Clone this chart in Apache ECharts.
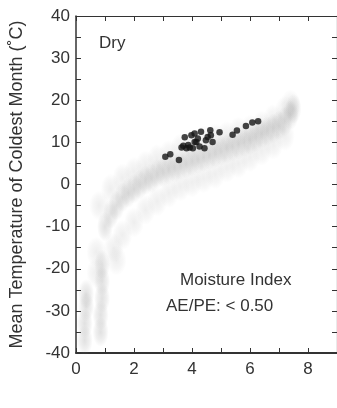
<!DOCTYPE html>
<html>
<head>
<meta charset="utf-8">
<script src="https://cdn.jsdelivr.net/npm/echarts/dist/echarts.min.js"></script>
<style>
  html, body { margin: 0; padding: 0; background: #fff; }
  #chart { width: 337px; height: 408px; }
</style>
</head>
<body>
<div id="chart"></div>
<script>
// moisture index (AE/PE) sites, dry class
var dryX = [3.08, 3.25, 3.55, 3.75, 3.70, 3.87, 3.98, 4.09, 4.20, 4.09, 4.03, 3.81, 4.26, 4.43, 4.48,
            4.63, 4.65, 4.71, 4.95, 4.31, 3.64, 3.92, 4.15, 4.54, 5.40, 5.55, 5.86, 6.08, 6.28];
var dryY = [6.6, 7.2, 5.8, 11.2, 9.2, 9.4, 11.7, 12.1, 10.9, 10.1, 8.6, 8.6, 9.0, 8.6, 10.5,
            12.9, 11.7, 10.1, 12.4, 12.5, 8.8, 8.8, 10.1, 11.3, 11.8, 12.8, 13.9, 14.7, 15.0];

// grey cloud of all other sites: dense core
var coreX = [1.0, 1.2, 1.4, 1.6, 1.8, 2.0, 2.2, 2.4, 2.6, 2.8, 3.0, 3.2, 3.4, 3.6, 3.8, 4.0, 4.2,
             4.4, 4.6, 4.8, 5.0, 5.2, 5.4, 5.6, 5.8, 6.0, 6.2, 6.4, 6.6, 6.8, 7.0, 7.2, 7.4, 7.5,
             0.3, 0.3, 0.35, 0.35, 0.85, 0.85, 0.9, 0.9, 0.9];
var coreY = [-10, -7, -5, -3, -2, -1, 0, 1, 1.5, 2.5, 3, 3.5, 4, 4.5, 5, 5.5, 6,
             6.5, 7, 7.5, 8, 8.5, 9, 9.5, 10, 10.5, 11.2, 12, 12.6, 13.3, 14, 15, 16.5, 18,
             -37, -33, -29, -26, -35, -31, -27, -23, -19];

// grey cloud: sparse fringe above and below the core
var fringeX = [0.8, 1.2, 1.6, 2.0, 2.4, 2.8, 3.2, 3.6, 4.0, 4.4, 4.8, 5.2, 5.6, 6.0, 6.4, 6.8, 7.2, 7.4,
               1.3, 1.6, 2.0, 2.4, 2.8, 3.2, 3.6, 4.0, 4.4, 4.8, 5.2, 5.6, 6.0, 6.4, 6.8, 7.2,
               0.7, 0.7, 1.4];
var fringeY = [-5, -1, 1.5, 3, 4.5, 6, 7, 8.5, 9.5, 10.5, 11, 11.5, 12.5, 13, 14, 15.5, 17.5, 19,
               -15, -12, -9, -6, -4, -2, -0.5, 0.5, 1.5, 2.5, 4, 5, 6.5, 8, 9.5, 11.5,
               -16, -21, -18];

var xTicks = [0, 2, 4, 6, 8];
var yTicks = [-40, -30, -20, -10, 0, 10, 20, 30, 40];

function pairs(xs, ys) {
  return xs.map(function (x, i) { return [x, ys[i]]; });
}

var chart = echarts.init(document.getElementById('chart'));
var font = 'Liberation Sans, Arial, sans-serif';
var ink = '#333';

function frameAxis(pos, w) {
  return {
    type: 'value', position: pos,
    axisLine: { show: true, onZero: false, lineStyle: { color: ink, width: w } },
    axisTick: { inside: true, length: 5, lineStyle: { color: ink } },
    minorTick: { show: true, splitNumber: 2, length: 5, lineStyle: { color: ink } },
    axisLabel: { show: false },
    splitLine: { show: false }
  };
}

var xBottom = frameAxis('bottom', 1.8);
xBottom.min = 0; xBottom.max = 9; xBottom.interval = 2;
xBottom.axisLabel = { color: ink, fontSize: 17, margin: 8, showMaxLabel: false, fontFamily: font };
var xTop = frameAxis('top', 1.2);
xTop.min = 0; xTop.max = 9; xTop.interval = 2;

var yLeft = frameAxis('left', 1.5);
yLeft.min = yTicks[0]; yLeft.max = yTicks[yTicks.length - 1]; yLeft.interval = 10;
yLeft.name = 'Mean Temperature of Coldest Month (˚C)';
yLeft.nameLocation = 'middle';
yLeft.nameGap = 50;
yLeft.nameTextStyle = { color: ink, fontSize: 18, fontFamily: font };
yLeft.axisLabel = { color: ink, fontSize: 17, margin: 6, fontFamily: font };
var yRight = frameAxis('right', 1.2);
yRight.min = -40; yRight.max = 40; yRight.interval = 10;

// soft grey blobs for the background cloud
function haze(a) {
  return new echarts.graphic.RadialGradient(0.5, 0.5, 0.5, [
    { offset: 0, color: 'rgba(150,150,150,' + a + ')' },
    { offset: 0.6, color: 'rgba(150,150,150,' + (a / 2) + ')' },
    { offset: 1, color: 'rgba(150,150,150,0)' }
  ]);
}

var option = {
  backgroundColor: '#fff',
  animation: false,
  textStyle: { fontFamily: font },
  grid: { left: 72, top: 16, right: -2, bottom: 55 },
  xAxis: [xBottom, xTop],
  yAxis: [yLeft, yRight],
  series: [{
    name: 'fringe', type: 'scatter', symbol: 'circle', symbolSize: [20, 30],
    itemStyle: { color: haze(0.2) },
    data: pairs(fringeX, fringeY)
  }, {
    name: 'core', type: 'scatter', symbol: 'circle', symbolSize: [16, 30],
    itemStyle: { color: haze(0.36) },
    data: pairs(coreX, coreY)
  }, {
    name: 'dry', type: 'scatter', symbolSize: 6.5,
    itemStyle: { color: '#151515' },
    data: pairs(dryX, dryY)
  }],
  graphic: [
    { type: 'text', left: 99, top: 35, style: { text: 'Dry', font: '17px ' + font, fill: ink } },
    { type: 'text', left: 180, top: 272, style: { text: 'Moisture Index', font: '17px ' + font, fill: ink } },
    { type: 'text', left: 166, top: 298, style: { text: 'AE/PE: < 0.50', font: '17px ' + font, fill: ink } }
  ]
};
chart.setOption(option);
</script>
</body>
</html>
